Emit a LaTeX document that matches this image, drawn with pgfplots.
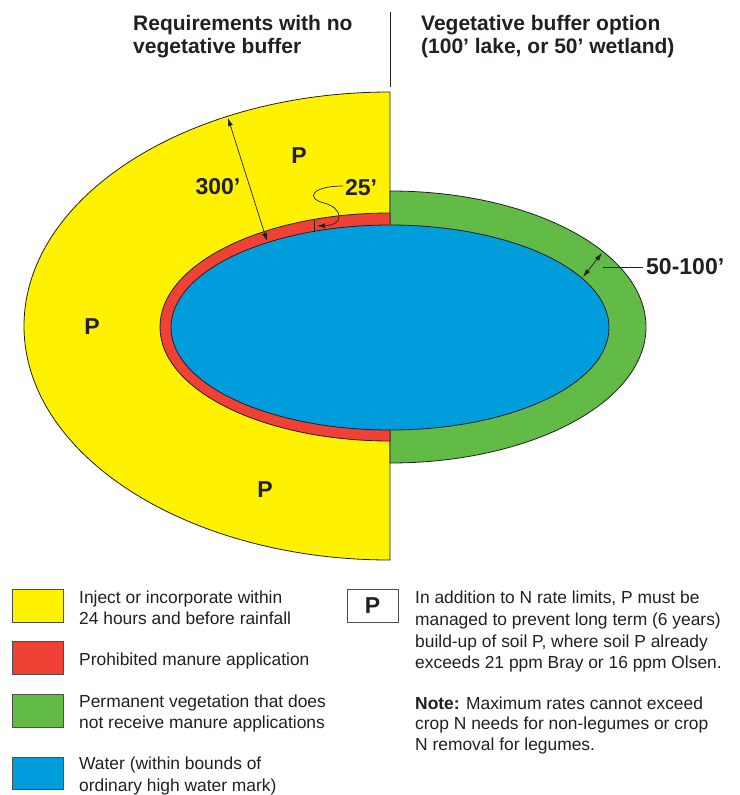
\documentclass[border=0pt]{standalone}
\usepackage{fontspec}
\setmainfont{Liberation Sans}
\usepackage{pgfplots}
\pgfplotsset{compat=1.18}
\usetikzlibrary{arrows.meta}
\definecolor{yel}{HTML}{FFF200}
\definecolor{red}{HTML}{EF4136}
\definecolor{grn}{HTML}{62BB47}
\definecolor{blu}{HTML}{009DDC}
\definecolor{ol}{HTML}{231F20}
\tikzset{lt/.style={anchor=base west, inner sep=0pt, font=\fontsize{17.4}{21}\selectfont, text=ol},
  hd/.style={anchor=base west, inner sep=0pt, font=\fontsize{21}{23}\selectfont\bfseries, text=ol},
  lb/.style={font=\fontsize{23}{25}\selectfont\bfseries, text=ol},
  ar/.style={ol, line width=0.7pt},
  tip/.tip={Latex[length=8pt,width=5pt]}}
\begin{document}
\begin{tikzpicture}
\begin{axis}[x=1pt, y=1pt, y dir=reverse, xmin=0, xmax=739, ymin=0, ymax=795,
  hide axis, clip=false, scale only axis]
\path (axis cs:0,0) rectangle (axis cs:739,795);
% shapes
\filldraw[fill=yel, draw=ol, line width=0.8pt] (axis cs:390,92) arc[start angle=90, end angle=270, x radius=366pt, y radius=234pt] -- cycle;
\filldraw[fill=grn, draw=ol, line width=0.8pt] (axis cs:390,191) arc[start angle=90, end angle=-90, x radius=256pt, y radius=136pt] -- cycle;
\filldraw[fill=red, draw=ol, line width=0.8pt] (axis cs:390,213) arc[start angle=90, end angle=270, x radius=230pt, y radius=114pt] -- cycle;
\filldraw[fill=blu, draw=ol, line width=0.8pt] (axis cs:390,327.5) ellipse[x radius=219pt, y radius=102.5pt];
% divider
\draw[ol, line width=0.8pt] (axis cs:390,12) -- (axis cs:390,87);
% headings
\node[hd] at (axis cs:133,30) {Requirements with no};
\node[hd] at (axis cs:133,53) {vegetative buffer};
\node[hd] at (axis cs:421,30) {Vegetative buffer option};
\node[hd] at (axis cs:421,53) {(100’ lake, or 50’ wetland)};
% labels
\node[lb] at (axis cs:299,156) {P};
\node[lb] at (axis cs:92,327) {P};
\node[lb] at (axis cs:265,490) {P};
\node[lb] at (axis cs:218,187) {300’};
\node[lb] at (axis cs:361,188) {25’};
\node[lb, anchor=west, inner sep=0pt] at (axis cs:646,267) {50-100’};
% arrows
\draw[ar, tip-tip] (axis cs:228,118) -- (axis cs:267,241);
\draw[ar, tip-tip] (axis cs:583,277) -- (axis cs:602,253);
\draw[ar] (axis cs:603,267) -- (axis cs:643,267);
\draw[ar] (axis cs:314,220) -- (axis cs:314,232);
\draw[ar, -tip] (axis cs:343,186) .. controls (axis cs:312,186) and (axis cs:305,198) .. (axis cs:324,203) .. controls (axis cs:343,208) and (axis cs:345,225) .. (axis cs:317,226);
% legend boxes
\filldraw[fill=yel, draw=ol!80, line width=0.8pt] (axis cs:12,589) rectangle (axis cs:63,622);
\filldraw[fill=red, draw=ol!80, line width=0.8pt] (axis cs:12,641) rectangle (axis cs:63,674);
\filldraw[fill=grn, draw=ol!80, line width=0.8pt] (axis cs:12,694) rectangle (axis cs:63,727);
\filldraw[fill=blu, draw=ol!80, line width=0.8pt] (axis cs:12,757) rectangle (axis cs:63,789);
\filldraw[fill=white, draw=ol!80, line width=0.8pt] (axis cs:347,589) rectangle (axis cs:398,622);
\node[lb] at (axis cs:372.5,605.5) {P};
% legend text
\node[lt] at (axis cs:79,603) {Inject or incorporate within};
\node[lt] at (axis cs:79,624) {24 hours and before rainfall};
\node[lt] at (axis cs:79,665) {Prohibited manure application};
\node[lt] at (axis cs:79,707) {Permanent vegetation that does};
\node[lt] at (axis cs:79,728) {not receive manure applications};
\node[lt] at (axis cs:79,769) {Water (within bounds of};
\node[lt] at (axis cs:79,791) {ordinary high water mark)};
\node[lt] at (axis cs:415,603) {In addition to N rate limits, P must be};
\node[lt] at (axis cs:415,625) {managed to prevent long term (6 years)};
\node[lt] at (axis cs:415,647) {build-up of soil P, where soil P already};
\node[lt] at (axis cs:415,668) {exceeds 21 ppm Bray or 16 ppm Olsen.};
\node[lt] at (axis cs:415,709) {\textbf{Note:} Maximum rates cannot exceed};
\node[lt] at (axis cs:415,729) {crop N needs for non-legumes or crop};
\node[lt] at (axis cs:415,750) {N removal for legumes.};
\end{axis}
\end{tikzpicture}
\end{document}
